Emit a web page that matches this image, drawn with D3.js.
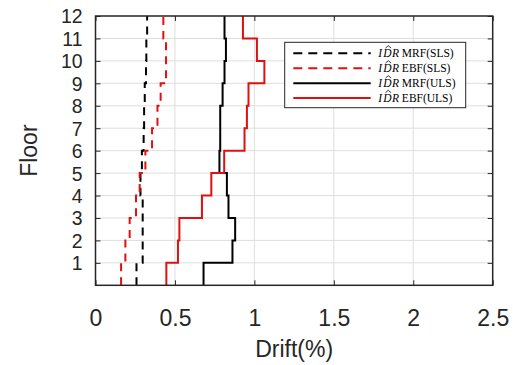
<!DOCTYPE html>
<html>
<head>
<meta charset="utf-8">
<script src="https://cdn.jsdelivr.net/npm/d3@7"></script>
<style>
  html, body { margin: 0; padding: 0; background: #fff; }
  svg { display: block; }
</style>
</head>
<body>
<svg id="chart" width="513" height="365"></svg>
<script>
// ---- data ----
const floors = [1, 2, 3, 4, 5, 6, 7, 8, 9, 10, 11, 12];
const mrfSLS = [0.258, 0.297, 0.297, 0.297, 0.283, 0.292, 0.303, 0.306, 0.310, 0.318, 0.320, 0.325];
const ebfSLS = [0.161, 0.188, 0.215, 0.255, 0.278, 0.314, 0.356, 0.390, 0.410, 0.444, 0.444, 0.427];
const mrfULS = [0.680, 0.862, 0.879, 0.837, 0.827, 0.780, 0.785, 0.785, 0.800, 0.812, 0.821, 0.812];
const ebfULS = [0.446, 0.519, 0.528, 0.670, 0.729, 0.810, 0.938, 0.953, 0.963, 1.063, 1.016, 0.928];
const xTicks = [0, 0.5, 1, 1.5, 2, 2.5];
const xTickLabels = ["0", "0.5", "1", "1.5", "2", "2.5"];
const yTicks = [1, 2, 3, 4, 5, 6, 7, 8, 9, 10, 11, 12];
const seriesNames = ["MRF(SLS)", "EBF(SLS)", "MRF(ULS)", "EBF(ULS)"];
const seriesColors = ["#000000", "#e01010", "#000000", "#e01010"];
const seriesDashed = [true, true, false, false];
const seriesValues = [mrfSLS, ebfSLS, mrfULS, ebfULS];

// ---- layout ----
const svg = d3.select("#chart");
const L = 95.5, R = 492.7, T = 16, B = 285.3;
const x = d3.scaleLinear().domain([0, 2.5]).range([L, R]);
const y = d3.scaleLinear().domain([0, 12]).range([B, T]);
const frameColor = "#262626";
const font = "'Liberation Sans', Arial, Helvetica, sans-serif";

// grid
const grid = svg.append("g");
grid.selectAll("line.gx").data(xTicks.slice(1, -1)).enter().append("line")
  .attr("x1", d => x(d)).attr("x2", d => x(d)).attr("y1", T).attr("y2", B)
  .attr("stroke", "#dedede").attr("stroke-width", 1);
grid.selectAll("line.gy").data(yTicks.slice(0, -1)).enter().append("line")
  .attr("y1", d => y(d)).attr("y2", d => y(d)).attr("x1", L).attr("x2", R)
  .attr("stroke", "#dedede").attr("stroke-width", 1);

// series (step profiles)
const line = d3.line().x(d => x(d[0])).y(d => y(d[1]));
seriesValues.forEach((vals, i) => {
  const pts = floors.flatMap((f, k) => [[vals[k], f - 1], [vals[k], f]]);
  svg.append("path")
    .attr("d", line(pts))
    .attr("fill", "none")
    .attr("stroke", seriesColors[i])
    .attr("stroke-width", 2)
    .attr("stroke-dasharray", seriesDashed[i] ? "8,6" : null);
});

// axes with inward ticks on all four sides
const tl = 5;
const axB = svg.append("g").attr("transform", `translate(0,${B})`)
  .call(d3.axisBottom(x).tickValues(xTicks).tickSizeInner(-tl).tickSizeOuter(0)
    .tickFormat((d, i) => xTickLabels[i]));
const axT = svg.append("g").attr("transform", `translate(0,${T})`)
  .call(d3.axisTop(x).tickValues(xTicks).tickSizeInner(-tl).tickSizeOuter(0).tickFormat(""));
const axL = svg.append("g").attr("transform", `translate(${L},0)`)
  .call(d3.axisLeft(y).tickValues(yTicks).tickSizeInner(-tl).tickSizeOuter(0));
const axR = svg.append("g").attr("transform", `translate(${R},0)`)
  .call(d3.axisRight(y).tickValues(yTicks).tickSizeInner(-tl).tickSizeOuter(0).tickFormat(""));
[axB, axT, axL, axR].forEach(a => {
  a.select(".domain").remove();
  a.selectAll(".tick line").attr("stroke", frameColor).attr("stroke-width", 1);
});
axB.selectAll(".tick text")
  .attr("y", 24).attr("dy", "0.71em")
  .attr("font-family", font).attr("font-size", 23).attr("fill", "#262626");
axL.selectAll(".tick text")
  .attr("x", -13).attr("dy", "0.36em")
  .attr("font-family", font).attr("font-size", 19.4).attr("fill", "#262626");

// frame
svg.append("rect").attr("x", L).attr("y", T).attr("width", R - L).attr("height", B - T)
  .attr("fill", "none").attr("stroke", frameColor).attr("stroke-width", 1.5);

// axis labels
svg.append("text").attr("x", (L + R) / 2).attr("y", 357)
  .attr("text-anchor", "middle").attr("font-family", font).attr("font-size", 23)
  .attr("fill", "#262626").text("Drift(%)");
svg.append("text").attr("transform", `translate(37,${(T + B) / 2}) rotate(-90)`)
  .attr("text-anchor", "middle").attr("font-family", font).attr("font-size", 23)
  .attr("fill", "#262626").text("Floor");

// legend
const lg = svg.append("g");
lg.append("rect").attr("x", 284.7).attr("y", 42.3).attr("width", 181).attr("height", 65.4)
  .attr("fill", "#fff").attr("stroke", frameColor).attr("stroke-width", 1);
const rowY = [53.3, 68.3, 83.3, 97.9];
const serif = "'Liberation Serif', 'Times New Roman', serif";
seriesNames.forEach((name, i) => {
  lg.append("line").attr("x1", 293.3).attr("x2", 370.7).attr("y1", rowY[i]).attr("y2", rowY[i])
    .attr("stroke", seriesColors[i]).attr("stroke-width", 2)
    .attr("stroke-dasharray", seriesDashed[i] ? "9,6" : null);
  const t = lg.append("text").attr("x", 378.3).attr("y", rowY[i]).attr("dy", "0.35em")
    .attr("font-family", serif).attr("font-size", 11.5).attr("fill", "#000");
  t.append("tspan").attr("font-style", "italic").text("I");
  t.append("tspan").attr("font-style", "italic").attr("dx", 1).text("D");
  t.append("tspan").attr("font-style", "italic").attr("dx", 0.5).text("R");
  t.append("tspan").text(" " + name);
  // hat over D, drawn as a small stroke
  const node = t.node();
  const start = node.getStartPositionOfChar(1);
  const end = node.getEndPositionOfChar(1);
  const cx = (start.x + end.x) / 2 + 1;
  const hy = rowY[i] - 5.2;
  lg.append("path")
    .attr("d", `M${cx - 2.8},${hy} L${cx},${hy - 2.4} L${cx + 2.8},${hy}`)
    .attr("fill", "none").attr("stroke", "#000").attr("stroke-width", 0.8);
});
</script>
</body>
</html>
